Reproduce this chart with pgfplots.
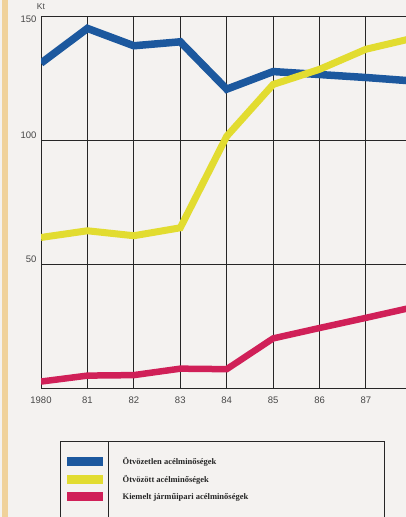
\documentclass[border=0pt]{standalone}
\usepackage{pgfplots}
\pgfplotsset{compat=1.18}
\usepackage{fontspec}
\setmainfont{Liberation Serif}
\newfontfamily\labelfont{Liberation Sans}

\definecolor{bluesteel}{RGB}{28,88,158}
\definecolor{yellowsteel}{RGB}{226,220,48}
\definecolor{redsteel}{RGB}{208,32,88}
\definecolor{paper}{RGB}{244,242,240}
\definecolor{edge}{RGB}{240,210,155}

\begin{document}
\begin{tikzpicture}
\path[use as bounding box] (0pt,0pt) rectangle (406pt,-517pt);
\clip (0pt,0pt) rectangle (406pt,-517pt);
\fill[paper] (0pt,0pt) rectangle (406pt,-517pt);
\fill[edge] (2pt,0pt) rectangle (8pt,-517pt);
% legend frame
\draw[black!85, line width=0.9pt] (60pt,-520pt) -- (60pt,-441pt) -- (384pt,-441pt) -- (384pt,-520pt);
\draw[black!85, line width=0.9pt] (108pt,-441pt) -- (108pt,-520pt);

\begin{axis}[
  at={(41pt,-388pt)}, anchor=south west,
  scale only axis, width=371.43pt, height=372pt,
  xmin=1980, xmax=1988, ymin=0, ymax=150,
  axis x line=bottom, axis y line=left,
  axis line style={black!85, line width=1pt, -},
  /pgf/number format/assume math mode=true,
  xtick={1980,...,1988},
  xticklabels={1980,81,82,83,84,85,86,87,88},
  ytick={50,100},
  extra y ticks={150},
  extra y tick style={grid=major, yticklabel style={yshift=-8pt}},
  major tick length=0pt,
  grid=major,
  major grid style={black!85, line width=1pt},
  tick label style={font=\labelfont\fontsize{9.5}{10}\selectfont, text=black!72},
  yticklabel style={anchor=east, xshift=-1pt, yshift=5pt},
  xticklabel style={yshift=-5pt},
  ylabel={Kt},
  ylabel style={rotate=-90, at={(axis description cs:0,1)}, anchor=south, yshift=3pt,
    font=\labelfont\fontsize{8.5}{9}\selectfont, text=black!72},
  legend style={draw=none, fill=none, at={(axis description cs:0.0579,-0.1794)},
    anchor=north west, inner sep=0pt, row sep=5.5pt, column sep=13pt,
    font=\bfseries\fontsize{8.5}{9}\selectfont,
    cells={anchor=west, inner sep=0pt, text=black!85}},
  legend image code/.code={\draw[#1, line width=9pt] (0pt,0pt) -- (36pt,0pt);},
]
\addplot[bluesteel, line width=7.5pt] coordinates {
  (1980,131) (1981,145) (1982,138) (1983,139.6) (1984,120.5)
  (1985,127.6) (1986,126.4) (1987,125.2) (1988,123.8)
};
\addlegendentry{Ötvözetlen acélminőségek}
\addplot[yellowsteel, line width=7pt] coordinates {
  (1980,60.7) (1981,63.4) (1982,61.4) (1983,64.6) (1984,101.5)
  (1985,122.4) (1986,128.5) (1987,136.6) (1988,141)
};
\addlegendentry{Ötvözött acélminőségek}
\addplot[redsteel, line width=6.5pt] coordinates {
  (1980,2.6) (1981,5) (1982,5.2) (1983,7.8) (1984,7.6)
  (1985,20) (1986,24.2) (1987,28.3) (1988,32.5)
};
\addlegendentry{Kiemelt járműipari acélminőségek}
\end{axis}
\end{tikzpicture}
\end{document}
